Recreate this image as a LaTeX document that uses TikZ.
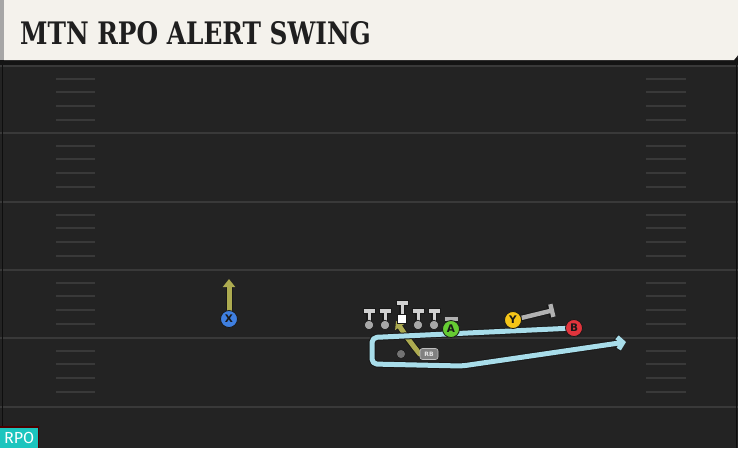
\documentclass[tikz,border=0pt]{standalone}
\usepackage{fontspec}
\newfontfamily\titlefont{DejaVu Serif}
\newfontfamily\labelfont{DejaVu Sans}
\newfontfamily\tagfont{Fira Sans}
\usetikzlibrary{arrows.meta}
\definecolor{field}{HTML}{232323}
\definecolor{yardline}{HTML}{393939}
\definecolor{banner}{HTML}{F4F2EC}
\definecolor{olive}{HTML}{ADAB50}
\definecolor{swing}{HTML}{A8DDEA}
\definecolor{xblue}{HTML}{3F7FE0}
\definecolor{agreen}{HTML}{66CC33}
\definecolor{yyellow}{HTML}{F5C518}
\definecolor{bred}{HTML}{E0343C}
\definecolor{olgray}{HTML}{D0D0D0}
\definecolor{oldot}{HTML}{A8A8A8}
\definecolor{rpoteal}{HTML}{1CC5BE}
\pgfdeclarelayer{field}
\pgfdeclarelayer{routes}
\pgfsetlayers{field,routes,main}
\tikzset{
  player/.style={circle, draw=black!90, line width=0.8pt, inner sep=0pt, minimum size=17pt,
    font=\labelfont\bfseries\fontsize{10.5}{10.5}\selectfont, text=black!90},
  route/.style={line width=5pt, line join=round, line cap=round,
    preaction={draw=black!90, line width=7pt}},
  block/.style={line width=4.4pt, draw=olgray!85!black,
    preaction={draw=black!90, line width=6.4pt}},
  hash/.style={draw=yardline, line width=1.6pt},
  lineman/.pic={
    \draw[draw=black!90, line width=5.4pt] (0,-14) -- (0,0);
    \draw[draw=black!90, line width=6pt] (-6.5,-14) -- (6.5,-14);
    \draw[draw=olgray, line width=3pt] (0,-14) -- (0,0);
    \draw[draw=olgray, line width=4pt] (-5.5,-14) -- (5.5,-14);
    \node[circle, fill=oldot, draw=black!90, line width=0.7pt, minimum size=9.5pt, inner sep=0pt] (-dot) at (0,0) {};
  },
}
\begin{document}
\begin{tikzpicture}[x=1pt, y=-1pt]
\useasboundingbox (0,0) rectangle (738,448);
\begin{pgfonlayer}{field}
% field
\fill[field] (0,0) rectangle (738,448);
\foreach \yy in {66,133,202,270,338,407}
  \draw[yardline, line width=2pt] (0,\yy) -- (738,\yy);
\foreach \yy in {66,133,202,270,338}
  \foreach \dy in {13,26,40,54} {
    \draw[hash] (56,\yy+\dy) -- (95,\yy+\dy);
    \draw[hash] (646,\yy+\dy) -- (686,\yy+\dy);
  }
\draw[black!60!field, line width=1pt] (2,65) -- (2,448);
\draw[black!60!field, line width=1pt] (736,65) -- (736,448);

% title banner
\fill[black!92] (0,58) rectangle (738,65);
\fill[banner] (4,0) -- (738,0) -- (738,55) -- (734,60) -- (4,60) -- cycle;
\fill[black!35] (0,0) rectangle (4,60);
\end{pgfonlayer}
\node[anchor=base west, inner sep=0pt, xscale=0.8, text=black!88,
  font=\titlefont\bfseries\fontsize{31}{31}\selectfont] (title) at (20,44) {MTN RPO ALERT SWING};

% rpo tag
\fill[red!30!black] (0,426) rectangle (39,448);
\node[fill=rpoteal, anchor=south west, minimum width=38pt, minimum height=20pt, inner sep=0pt,
  text=white, font=\tagfont\fontsize{16}{16}\selectfont] (tag) at (0,448) {RPO};

% offensive line
\pic (LT) at (369,325) {lineman};
\pic (LG) at (385,325) {lineman};
\pic (RG) at (418,325) {lineman};
\pic (RT) at (434,325) {lineman};
\draw[draw=black!90, line width=5.4pt] (402,303) -- (402,316);
\draw[draw=black!90, line width=6pt] (395.5,303) -- (408.5,303);
\draw[draw=olgray, line width=3pt] (402,303) -- (402,316);
\draw[draw=olgray, line width=4pt] (396.5,303) -- (407.5,303);
\node[fill=white, draw=black!90, line width=0.6pt, minimum size=8.5pt, inner sep=0pt] (C) at (402,319) {};

% skill players
\node[player, fill=xblue] (X) at (229,319) {X};
\node[player, fill=agreen] (A) at (451,329) {A};
\node[player, fill=yyellow] (Y) at (513,320) {Y};
\node[player, fill=bred] (B) at (574,328) {B};
\node[circle, fill=black!55, draw=black!90, line width=0.6pt, minimum size=9pt, inner sep=0pt] (QB) at (401,354) {};
\node[rounded corners=2.5pt, fill=black!50, draw=black!25, line width=0.6pt, inner sep=0pt,
  minimum width=18pt, minimum height=11pt, text=white!90!black,
  font=\labelfont\bfseries\fontsize{6}{6}\selectfont] (RB) at (429,354) {RB};

\coordinate (Xend) at (229,279);
\coordinate (Astub) at (451,317);
\coordinate (Yend) at (554,310);
\coordinate (rb1) at (415,348);
\coordinate (rb2) at (406,336);
\coordinate (Cend) at (396,321);
\coordinate (sw1) at (372,337.5);
\coordinate (sw2) at (372,364);
\coordinate (sw3) at (462,366);
\coordinate (Send) at (626,342);

\begin{pgfonlayer}{routes}
  % X stop route
  \draw[route, olive, -{Triangle[length=8pt, width=12pt]}] (X) -- (Xend);
  % RB path into mesh
  \draw[route, olive, -{Triangle[length=7pt, width=11pt]}] (RB.west) -- (rb1) -- (rb2) -- (Cend);
  % A / Y blocks
  \draw[block, -{Bar[width=13pt]}] (A) -- (Astub);
  \draw[block, -{Bar[width=13pt]}] (Y) -- (Yend);
  % swing
  \draw[route, swing, rounded corners=5pt, -{Straight Barb[length=5pt, width=12pt]}]
    (B) -- (sw1) -- (sw2) -- (sw3) -- (Send);
\end{pgfonlayer}
\end{tikzpicture}
\end{document}
